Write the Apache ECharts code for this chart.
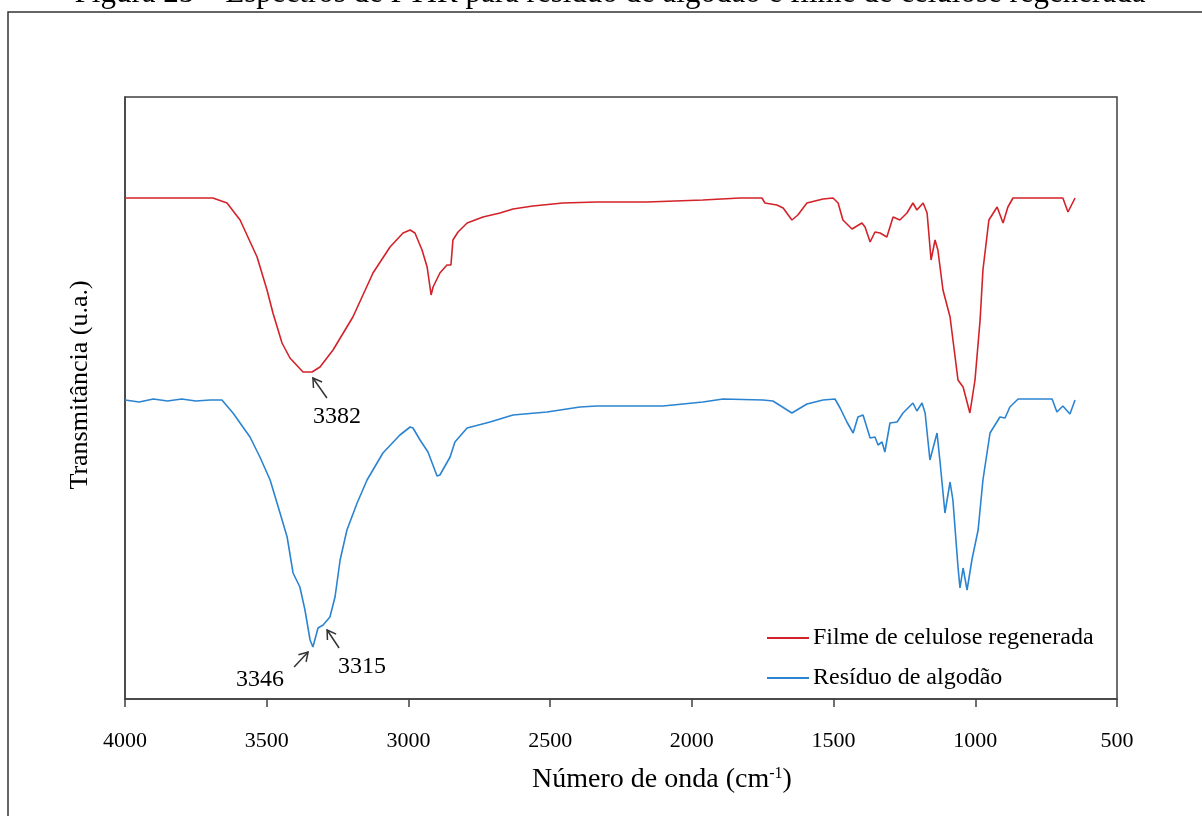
<!DOCTYPE html>
<html>
<head>
<meta charset="utf-8">
<title>Espectros de FTIR</title>
<script src="https://cdn.jsdelivr.net/npm/echarts@6/dist/echarts.min.js"></script>
<style>
  html, body { margin: 0; padding: 0; background: #fff; }
  #chart { width: 1202px; height: 816px; }
</style>
<script>
// numero de onda (cm-1) e transmitancia (u.a.)
var filmeWave = [4000,3690,3640,3594,3534,3499,3478,3446,3418,3372,3340,3312,3266,3196,3125,3065,3019,2994,2977,2952,2934,2920,2913,2889,2864,2850,2843,2825,2793,2737,2677,2631,2561,2455,2335,2158,1961,1830,1753,1742,1700,1678,1647,1626,1594,1537,1502,1484,1467,1435,1400,1389,1371,1354,1336,1312,1290,1266,1241,1220,1206,1184,1170,1156,1142,1132,1114,1089,1061,1043,1019,1001,983,973,952,923,902,885,867,691,673,648];
var filmeT = [501,501,496,479,442,409,386,356,341,327,327,332,349,382,426,452,466,469,466,449,432,404,412,426,434,434,459,467,476,482,486,490,493,496,497,497,499,501,501,496,494,491,479,484,496,500,501,496,479,470,476,472,457,467,466,462,482,479,486,496,489,496,486,439,459,449,409,382,319,312,286,319,379,429,479,492,476,492,501,501,487,501];

var residuoWave = [4000,3950,3900,3850,3800,3750,3700,3658,3619,3559,3524,3488,3453,3428,3407,3383,3365,3347,3337,3319,3301,3277,3259,3241,3217,3181,3146,3090,3030,2994,2984,2959,2931,2899,2889,2853,2836,2793,2712,2631,2511,2395,2335,2102,1961,1890,1749,1714,1647,1594,1537,1495,1477,1453,1431,1414,1396,1371,1354,1343,1329,1319,1301,1276,1255,1220,1206,1188,1177,1160,1135,1125,1107,1089,1079,1061,1054,1043,1029,1012,990,973,948,913,895,878,849,729,712,691,666,648];
var residuoT = [299,297,300,298,300,298,299,299,286,262,242,219,186,162,126,112,89,59,52,71,74,82,102,139,169,196,219,246,264,272,271,259,247,223,224,242,257,271,277,284,287,292,293,293,297,300,299,298,286,295,299,300,291,277,266,282,284,261,262,254,257,247,276,277,286,296,288,296,286,239,266,239,186,217,199,132,111,131,109,139,169,219,266,282,281,292,300,300,287,293,285,299];

var seriesNames = ['Filme de celulose regenerada', 'Resíduo de algodão'];
var xTicks = [500, 4000, 500]; // min, max, intervalo

// picos marcados
var peakLabels = ['3382', '3346', '3315'];
var peakWave = [3337, 3354, 3287];
var peakT = [321, 47, 69];

function zip(a, b) {
  var out = [];
  for (var i = 0; i < a.length; i++) out.push([a[i], b[i]]);
  return out;
}
</script>
</head>
<body>
<div id="chart"></div>
<script>
var serif = '"Liberation Serif", "Times New Roman", serif';
var chart = echarts.init(document.getElementById('chart'));

var option = {
  animation: false,
  backgroundColor: '#fff',
  grid: {
    left: 125, top: 97, right: 85, bottom: 117,
    show: true, borderColor: '#404040', borderWidth: 1.5
  },
  legend: {
    orient: 'vertical',
    left: 767,
    top: 626,
    padding: 0,
    itemWidth: 42,
    itemHeight: 2,
    itemGap: 16,
    icon: 'rect',
    data: seriesNames,
    textStyle: { fontFamily: serif, fontSize: 24, color: '#000', lineHeight: 24, padding: [0, 0, 0, -1] }
  },
  xAxis: {
    type: 'value',
    inverse: true,
    min: xTicks[0],
    max: xTicks[1],
    interval: xTicks[2],
    name: 'Número de onda (cm{sup|-1})',
    nameLocation: 'middle',
    nameGap: 67,
    nameTextStyle: {
      fontFamily: serif, fontSize: 28, color: '#000', padding: [0, 0, 0, 82],
      rich: { sup: { fontFamily: serif, fontSize: 16, color: '#000', verticalAlign: 'top', padding: [0, 0, 12, 0] } }
    },
    axisLine: { show: true, lineStyle: { color: '#404040', width: 1.5 } },
    axisTick: { show: true, inside: false, length: 8, lineStyle: { color: '#404040', width: 1.5 } },
    axisLabel: {
      margin: 31, fontFamily: serif, fontSize: 22, color: '#000', showMinLabel: true, showMaxLabel: true,
      formatter: function (v) { return String(v); }
    },
    splitLine: { show: false }
  },
  yAxis: {
    type: 'value',
    min: 0,
    max: 602,
    name: 'Transmitância (u.a.)',
    nameLocation: 'middle',
    nameGap: 32,
    nameTextStyle: { fontFamily: serif, fontSize: 26, color: '#000', padding: [0, 0, 0, 26] },
    axisLine: { show: true, lineStyle: { color: '#404040', width: 1.5 } },
    axisTick: { show: false },
    axisLabel: { show: false },
    splitLine: { show: false }
  },
  series: [
    {
      name: seriesNames[0],
      type: 'line',
      data: zip(filmeWave, filmeT),
      showSymbol: false,
      color: '#d3222a',
      lineStyle: { width: 1.6, color: '#d3222a' }
    },
    {
      name: seriesNames[1],
      type: 'line',
      data: zip(residuoWave, residuoT),
      showSymbol: false,
      color: '#2b84d1',
      lineStyle: { width: 1.6, color: '#2b84d1' }
    }
  ]
};
chart.setOption(option);

// setas e rotulos dos picos, posicionados pela escala do grafico
var tailOff = [[14, 20], [-14, 15], [12, 18]];
var labelOff = [[24, 39], [-48, 28], [35, 37]];
var elements = [
  { type: 'rect', shape: { x: 8, y: 12, width: 1230, height: 830 },
    style: { fill: 'none', stroke: '#333', lineWidth: 1.5 }, silent: true },
  { type: 'text', x: 610, y: 9,
    style: { text: 'Figura 25 – Espectros de FTIR para resíduo de algodão e filme de celulose regenerada',
      font: '31px ' + serif, fill: '#000', textAlign: 'center', textVerticalAlign: 'bottom' } }
];
for (var i = 0; i < peakLabels.length; i++) {
  var h = chart.convertToPixel({ gridIndex: 0 }, [peakWave[i], peakT[i]]);
  var t = [h[0] + tailOff[i][0], h[1] + tailOff[i][1]];
  var ang = Math.atan2(h[1] - t[1], h[0] - t[0]);
  var wing = 10, spread = 0.55;
  var w1 = [h[0] - wing * Math.cos(ang - spread), h[1] - wing * Math.sin(ang - spread)];
  var w2 = [h[0] - wing * Math.cos(ang + spread), h[1] - wing * Math.sin(ang + spread)];
  elements.push({ type: 'polyline', shape: { points: [t, h] }, style: { stroke: '#333', lineWidth: 1.5, fill: null } });
  elements.push({ type: 'polyline', shape: { points: [w1, h, w2] }, style: { stroke: '#333', lineWidth: 1.5, fill: null } });
  elements.push({ type: 'text', x: h[0] + labelOff[i][0], y: h[1] + labelOff[i][1],
    style: { text: peakLabels[i], font: '24px ' + serif, fill: '#000', textAlign: 'center', textVerticalAlign: 'middle' } });
}
chart.setOption({ graphic: elements });
</script>
</body>
</html>
